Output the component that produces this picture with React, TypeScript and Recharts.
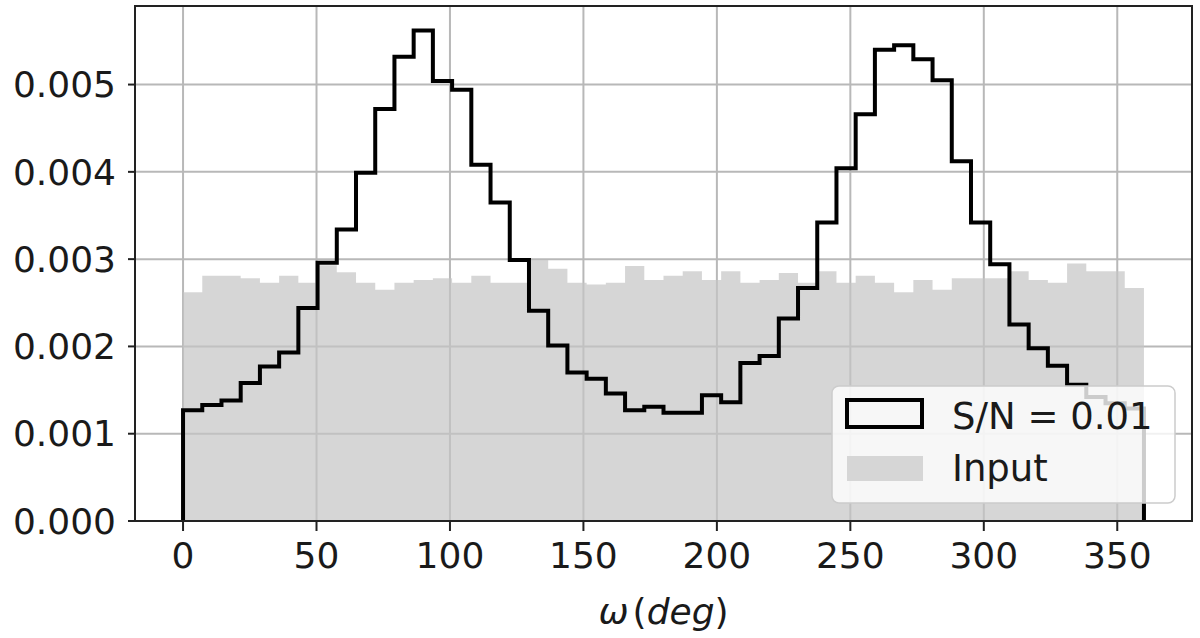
import { Area, CartesianGrid, ComposedChart, Label, Line, ReferenceArea, XAxis, YAxis } from "recharts"

// histogram: 50 bins of 7.2 deg between 0 and 360
const BIN_WIDTH = 7.2
const X_TICKS = [0, 50, 100, 150, 200, 250, 300, 350]
const Y_TICKS = [0, 0.001, 0.002, 0.003, 0.004, 0.005]
const X_DOMAIN = [-18, 378]
const Y_MAX = 0.0059

// S/N = 0.01 (black step outline)
const snDensity = [
  0.00127, 0.00133, 0.00138, 0.00158, 0.00177, 0.00193, 0.00244, 0.00296, 0.00334, 0.00399,
  0.00472, 0.00532, 0.00562, 0.00504, 0.00494, 0.00408, 0.00365, 0.00299, 0.00241, 0.00201,
  0.0017, 0.00163, 0.00146, 0.00127, 0.00131, 0.00124, 0.00124, 0.00144, 0.00136, 0.00181,
  0.00189, 0.00232, 0.00267, 0.00342, 0.00404, 0.00466, 0.0054, 0.00545, 0.00529, 0.00505,
  0.00412, 0.00342, 0.00294, 0.00225, 0.00198, 0.00178, 0.00156, 0.00142, 0.00135, 0.00129,
]

// Input (grey filled)
const inputDensity = [
  0.00262, 0.00281, 0.00281, 0.00278, 0.00273, 0.00281, 0.00273, 0.00293, 0.00285, 0.00273,
  0.00265, 0.00273, 0.00276, 0.00278, 0.00273, 0.00281, 0.00273, 0.00273, 0.00299, 0.00289,
  0.00273, 0.00271, 0.00273, 0.00292, 0.00276, 0.00281, 0.00286, 0.00276, 0.00286, 0.00273,
  0.00276, 0.00284, 0.00273, 0.00286, 0.00273, 0.00281, 0.00273, 0.00262, 0.00276, 0.00265,
  0.00278, 0.00278, 0.00278, 0.00286, 0.00276, 0.00273, 0.00295, 0.00286, 0.00286, 0.00267,
]

const data = [
  { x: 0, sn: 0, input: 0 },
  ...snDensity.map((v, i) => ({ x: i * BIN_WIDTH, sn: v, input: inputDensity[i] })),
  { x: snDensity.length * BIN_WIDTH, sn: 0, input: 0 },
]

const FONT = "'DejaVu Sans', sans-serif"
const TEXT = "#1a1a1a"

function XLabel(props: any) {
  const vb = props.viewBox || {}
  const cx = vb.x + vb.width / 2
  return (
    <text x={cx} y={vb.y + 103} textAnchor="middle" fontFamily={FONT} fontSize={36} fill={TEXT}>
      <tspan fontStyle="italic">ω</tspan>
      <tspan dx={4}>(</tspan>
      <tspan fontStyle="italic">deg</tspan>
      <tspan>)</tspan>
    </text>
  )
}

function LegendBox() {
  return (
    <svg width={350} height={125} style={{ position: "absolute", left: 830, top: 383 }}>
      <rect x={2} y={3} width={343} height={117} rx={7} fill="#ffffff" fillOpacity={0.8} stroke="#cccccc" strokeWidth={1.5} />
      <rect x={17} y={17} width={75} height={27} fill="none" stroke="#000" strokeWidth={4} />
      <text x={122} y={46} fontFamily={FONT} fontSize={37} fill={TEXT}>S/N = 0.01</text>
      <rect x={17} y={73} width={76} height={25} fill="#d6d6d6" />
      <text x={122} y={98} fontFamily={FONT} fontSize={37} fill={TEXT}>Input</text>
    </svg>
  )
}

export default function App() {
  return (
    <div style={{ position: "absolute", left: 0, top: 0, width: 1200, height: 638, background: "#fff" }}>
      <ComposedChart width={1200} height={638} data={data} margin={{ top: 6, right: 8, bottom: 0, left: 0 }}>
        <CartesianGrid stroke="#b8b8b8" strokeWidth={2} horizontalValues={Y_TICKS} verticalValues={X_TICKS} />
        <XAxis
          dataKey="x"
          type="number"
          domain={X_DOMAIN}
          ticks={X_TICKS}
          allowDataOverflow
          height={117}
          tickSize={10}
          tickMargin={11}
          axisLine={{ stroke: "#222", strokeWidth: 2 }}
          tickLine={{ stroke: "#222", strokeWidth: 2 }}
          tick={{ fontSize: 36, fontFamily: FONT, fill: TEXT }}
        >
          <Label content={XLabel} />
        </XAxis>
        <YAxis
          type="number"
          domain={[0, Y_MAX]}
          ticks={Y_TICKS}
          allowDataOverflow
          width={135}
          tickSize={7}
          tickMargin={12}
          tickFormatter={(v: number) => v.toFixed(3)}
          axisLine={{ stroke: "#222", strokeWidth: 2 }}
          tickLine={{ stroke: "#222", strokeWidth: 2 }}
          tick={{ fontSize: 36, fontFamily: FONT, fill: TEXT }}
        />
        <Area
          dataKey="input"
          type="stepAfter"
          stroke="none"
          fill="#c4c4c4"
          fillOpacity={0.7}
          baseValue={0}
          dot={false}
          activeDot={false}
          isAnimationActive={false}
        />
        <Line
          dataKey="sn"
          type="stepAfter"
          stroke="#000"
          strokeWidth={4}
          strokeLinejoin="miter"
          dot={false}
          activeDot={false}
          isAnimationActive={false}
        />
        <ReferenceArea
          x1={X_DOMAIN[0]}
          x2={X_DOMAIN[1]}
          y1={0}
          y2={Y_MAX}
          fill="none"
          fillOpacity={0}
          stroke="#222"
          strokeWidth={2}
          ifOverflow="visible"
        />
      </ComposedChart>
      <LegendBox />
    </div>
  )
}
